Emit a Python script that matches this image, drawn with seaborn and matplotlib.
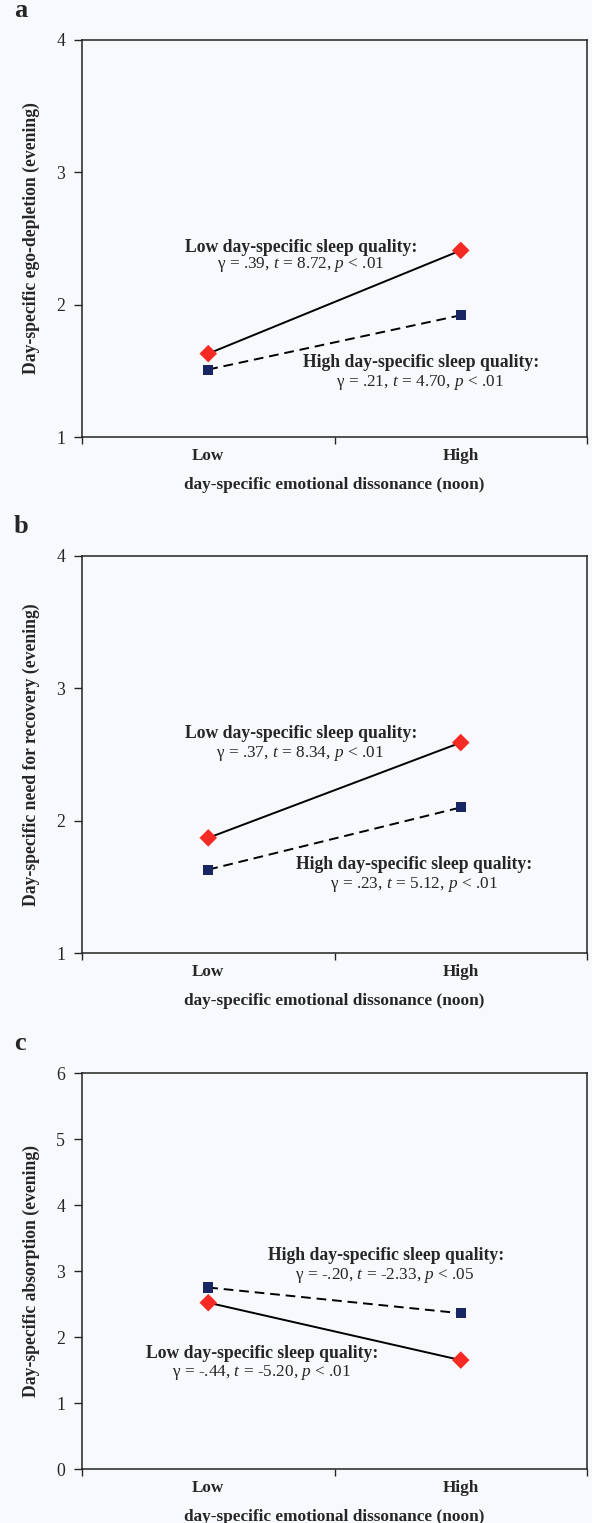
import matplotlib
matplotlib.use("Agg")
import matplotlib.pyplot as plt
import seaborn as sns
import pandas as pd

# ---------------- data ----------------
dissonance = ["Low", "High"]
groups = ["Low day-specific sleep quality", "High day-specific sleep quality"]

a_low_sleep = [1.63, 2.41]
a_high_sleep = [1.51, 1.92]
b_low_sleep = [1.87, 2.59]
b_high_sleep = [1.63, 2.10]
c_low_sleep = [2.52, 1.65]
c_high_sleep = [2.75, 2.36]

ylabels = ["Day-specific ego-depletion (evening)",
           "Day-specific need for recovery (evening)",
           "Day-specific absorption (evening)"]
xlabel = "day-specific emotional dissonance (noon)"
panel_letters = ["a", "b", "c"]
yticks_ab = [1, 2, 3, 4]
yticks_c = [0, 1, 2, 3, 4, 5, 6]

stats_low = [r"γ = .39, $t$ = 8.72, $p$ < .01",
             r"γ = .37, $t$ = 8.34, $p$ < .01",
             r"γ = -.44, $t$ = -5.20, $p$ < .01"]
stats_high = [r"γ = .21, $t$ = 4.70, $p$ < .01",
              r"γ = .23, $t$ = 5.12, $p$ < .01",
              r"γ = -.20, $t$ = -2.33, $p$ < .05"]

# ---------------- style ----------------
sns.set_theme(style="ticks")
BG = "#f8f9fc"
plt.rcParams["font.family"] = ["Liberation Serif", "DejaVu Serif"]
plt.rcParams["mathtext.fontset"] = "custom"
plt.rcParams["mathtext.rm"] = "Liberation Serif"
plt.rcParams["mathtext.it"] = "Liberation Serif:italic"
plt.rcParams["mathtext.bf"] = "Liberation Serif:bold"

RED = "#f52a25"
NAVY = "#1a2663"

fig = plt.figure(figsize=(5.92, 15.23), dpi=100, facecolor=BG)
W, H = 592.0, 1523.0
left_px, right_px = 82, 587
panels_px = [(40, 437), (556, 953), (1073, 1469)]

datasets = [(a_low_sleep, a_high_sleep), (b_low_sleep, b_high_sleep), (c_low_sleep, c_high_sleep)]
ylims = [(1, 4), (1, 4), (0, 6)]
yticks_all = [yticks_ab, yticks_ab, yticks_c]

# text positions (data coords): (x, y line1, x, y line2)
low_txt = [(0.367, 2.43, 0.365, 2.30), (0.367, 2.66, 0.362, 2.51), (0.215, 1.75, 0.21, 1.46)]
high_txt = [(0.843, 1.56, 0.84, 1.41), (0.817, 1.67, 0.814, 1.52), (0.704, 3.24, 0.70, 2.93)]

for i, (top, bot) in enumerate(panels_px):
    ax = fig.add_axes([left_px / W, 1 - bot / H, (right_px - left_px) / W, (bot - top) / H])
    ax.set_facecolor(BG)
    lo, hi = datasets[i]
    df = pd.DataFrame({
        "dissonance": dissonance * 2,
        "value": lo + hi,
        "sleep": [groups[0]] * 2 + [groups[1]] * 2,
    })
    sns.lineplot(data=df, x="dissonance", y="value", style="sleep",
                 dashes={groups[0]: "", groups[1]: (5, 3)}, color="black",
                 linewidth=1.4, sort=False, legend=False, ax=ax, zorder=2)
    sns.scatterplot(data=df, x="dissonance", y="value", hue="sleep", style="sleep",
                    size="sleep", sizes={groups[0]: 80, groups[1]: 52},
                    palette={groups[0]: RED, groups[1]: NAVY},
                    markers={groups[0]: "D", groups[1]: "s"},
                    linewidth=0, legend=False, ax=ax, zorder=3)
    ax.set_xlim(-0.5, 1.5)
    ax.set_ylim(*ylims[i])
    ax.set_yticks(yticks_all[i])
    ax.set_yticklabels([str(t) for t in yticks_all[i]], fontsize=12.8)
    ax.set_xticks([-0.5, 0.5, 1.5])
    ax.set_xticklabels([])
    ax.set_xticks([0, 1], minor=True)
    ax.set_xticklabels(dissonance, minor=True, fontsize=12.3, fontweight="bold")
    ax.tick_params(axis="x", which="minor", length=0, pad=8)
    ax.tick_params(axis="x", which="major", length=5, width=1, direction="out")
    ax.tick_params(axis="y", length=6, width=1, direction="out", pad=6)
    for sp in ax.spines.values():
        sp.set_visible(True)
        sp.set_linewidth(1.1)
        sp.set_color("#222222")
    ax.set_xlabel(xlabel, fontsize=12.4, fontweight="bold", labelpad=9)
    ax.set_ylabel(ylabels[i], fontsize=12.7, fontweight="bold", labelpad=12)

    x1, y1, x2, y2 = low_txt[i]
    ax.text(x1, y1, "Low day-specific sleep quality:", ha="center", va="center",
            fontsize=12.7, fontweight="bold")
    ax.text(x2, y2, stats_low[i], ha="center", va="center", fontsize=12.4)
    x1, y1, x2, y2 = high_txt[i]
    ax.text(x1, y1, "High day-specific sleep quality:", ha="center", va="center",
            fontsize=12.7, fontweight="bold")
    ax.text(x2, y2, stats_high[i], ha="center", va="center", fontsize=12.4)

    fig.text(14 / W, 1 - (top - 23) / H, panel_letters[i], ha="left", va="baseline",
             fontsize=19, fontweight="bold")

fig.savefig("out.png", dpi=100, facecolor=BG)
